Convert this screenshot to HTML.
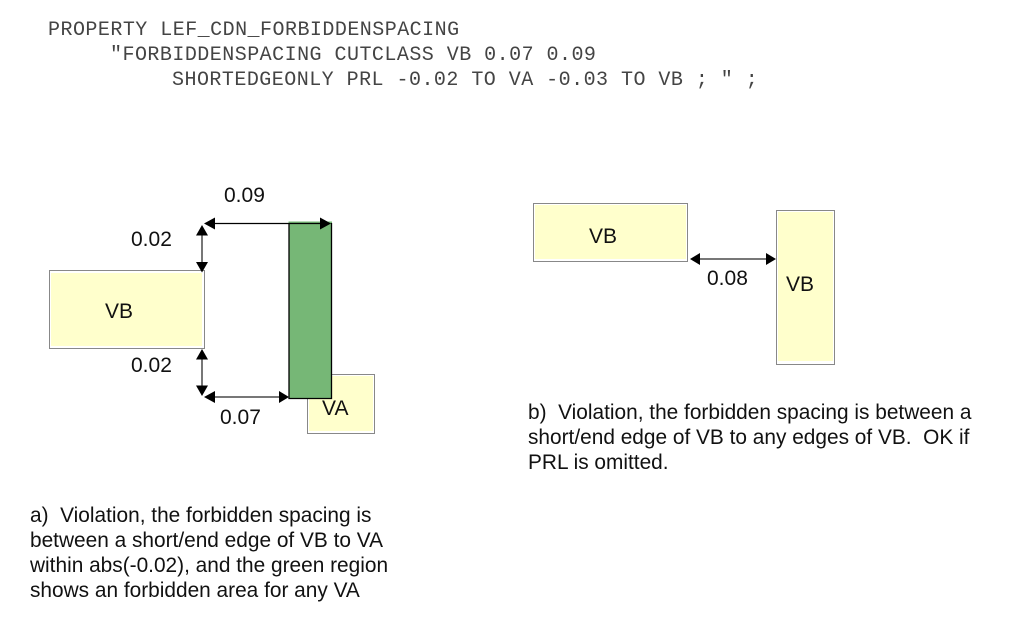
<!DOCTYPE html>
<html><head><meta charset="utf-8"><style>
html,body{margin:0;padding:0;background:#fff;width:1013px;height:631px;overflow:hidden}
svg{display:block}
.s{font-family:"Liberation Sans",sans-serif;font-size:20.85px;fill:#111}
.l{font-family:"Liberation Sans",sans-serif;font-size:21px;fill:#111}
.m{font-family:"Liberation Mono",monospace;font-size:20px;letter-spacing:.47px;fill:#444}
</style></head><body>
<svg width="1013" height="631" viewBox="0 0 1013 631" xmlns="http://www.w3.org/2000/svg">
<text class="m" x="48" y="35" xml:space="preserve">PROPERTY LEF_CDN_FORBIDDENSPACING</text>
<text class="m" x="110" y="60" xml:space="preserve">"FORBIDDENSPACING CUTCLASS VB 0.07 0.09</text>
<text class="m" x="172" y="85" xml:space="preserve">SHORTEDGEONLY PRL -0.02 TO VA -0.03 TO VB ; " ;</text>

<!-- VB left -->
<rect x="49.5" y="270.5" width="155" height="78" fill="#fff" stroke="#888"/>
<rect x="51" y="273" width="151" height="73" fill="#ffffcc"/>
<!-- VA -->
<rect x="307.5" y="374.5" width="67" height="59" fill="#fff" stroke="#888"/>
<rect x="309" y="376" width="64" height="55" fill="#ffffcc"/>
<!-- green -->
<rect x="288.5" y="221.500" width="43.500" height="177" fill="#76b776"/>
<path d="M289 223V398.500H331.500V223" fill="none" stroke="#000" stroke-width="1.300"/>

<!-- arrows -->
<path d="M212 223.500H322" stroke="#000" stroke-width="1.300"/>
<path d="M204 223.500L215 217.500V229.500Z M331 223.500L320 217.500V229.500Z" fill="#000"/>
<path d="M202 232V264" stroke="#777" stroke-width="2"/>
<path d="M202 225L196 235.500H208Z M202 272.500L196 262H208Z" fill="#000"/>
<path d="M202 357V388" stroke="#777" stroke-width="2"/>
<path d="M202 349L196 359.500H208Z M202 396L196 385.500H208Z" fill="#000"/>
<path d="M212 397H281" stroke="#777" stroke-width="2"/>
<path d="M204 397L215 391V403Z M289 397L279 391V403Z" fill="#000"/>

<!-- right -->
<rect x="533.5" y="203.500" width="154" height="58" fill="#fff" stroke="#888"/>
<rect x="535" y="205" width="151" height="54" fill="#ffffcc"/>
<rect x="776.500" y="210.500" width="58" height="154" fill="#fff" stroke="#888"/>
<rect x="778" y="212" width="55" height="149" fill="#ffffcc"/>
<path d="M698 259H768" stroke="#777" stroke-width="2"/>
<path d="M690 259L700 253V265Z M776 259L766 253V265Z" fill="#000"/>

<!-- labels -->
<text class="l" x="224" y="202">0.09</text>
<text class="l" x="131" y="246">0.02</text>
<text class="l" x="131" y="372">0.02</text>
<text class="l" x="220" y="424">0.07</text>
<text class="l" x="105" y="318">VB</text>
<text class="l" x="322" y="415">VA</text>
<text class="l" x="589" y="243">VB</text>
<text class="l" x="786" y="291">VB</text>
<text class="l" x="707" y="285">0.08</text>

<text class="s" x="30" y="522" xml:space="preserve">a)  Violation, the forbidden spacing is</text>
<text class="s" x="30" y="547">between a short/end edge of VB to VA</text>
<text class="s" x="30" y="572">within abs(-0.02), and the green region</text>
<text class="s" x="30" y="597">shows an forbidden area for any VA</text>

<text class="s" x="528" y="419" xml:space="preserve">b)  Violation, the forbidden spacing is between a</text>
<text class="s" x="528" y="444" xml:space="preserve">short/end edge of VB to any edges of VB.  OK if</text>
<text class="s" x="528" y="469">PRL is omitted.</text>
</svg>
</body></html>
